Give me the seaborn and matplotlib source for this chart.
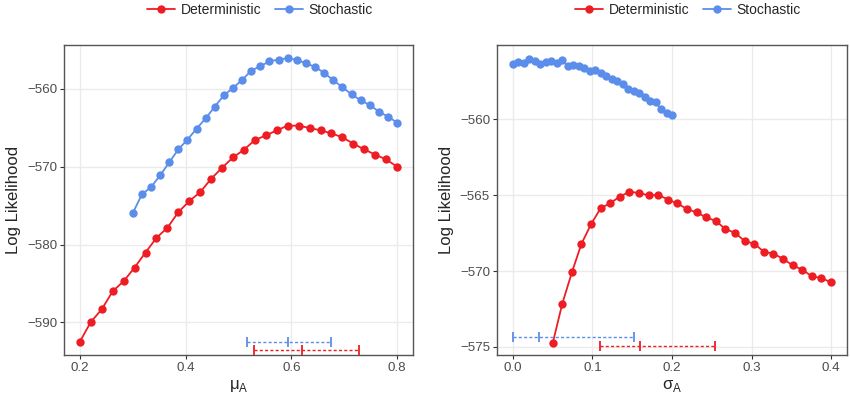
import numpy as np
import pandas as pd
import seaborn as sns
import matplotlib.pyplot as plt

# values
mu_det = np.linspace(0.2, 0.8, 30)
ll_mu_det = [-592.49, -589.96, -588.33, -586.01, -584.72, -582.96, -581.03, -579.14, -577.85, -575.84,
             -574.42, -573.26, -571.55, -570.13, -568.80, -567.81, -566.57, -565.97, -565.32, -564.72,
             -564.72, -565.02, -565.32, -565.71, -566.22, -567.04, -567.77, -568.45, -569.06, -570.00]
mu_sto = np.linspace(0.3, 0.8, 30)
ll_mu_sto = [-575.97, -573.56, -572.62, -571.12, -569.44, -567.77, -566.52, -565.11, -563.78, -562.27,
             -560.82, -559.87, -558.84, -557.64, -557.08, -556.44, -556.22, -556.05, -556.27, -556.70,
             -557.17, -557.94, -558.88, -559.79, -560.69, -561.46, -562.06, -562.92, -563.56, -564.33]

sig_det = np.linspace(0.05, 0.4, 30)
ll_sig_det = [-574.76, -572.15, -570.09, -568.20, -566.91, -565.86, -565.53, -565.09, -564.78, -564.85,
              -565.02, -564.98, -565.29, -565.55, -565.92, -566.14, -566.47, -566.70, -567.24, -567.48,
              -568.03, -568.20, -568.73, -568.86, -569.19, -569.63, -569.91, -570.35, -570.46, -570.75]
sig_sto = np.linspace(0.0, 0.2, 30)
ll_sig_sto = [-556.38, -556.23, -556.29, -556.01, -556.14, -556.34, -556.25, -556.14, -556.32, -556.10,
              -556.51, -556.40, -556.47, -556.60, -556.82, -556.73, -556.95, -557.17, -557.32, -557.50,
              -557.70, -557.98, -558.16, -558.29, -558.55, -558.77, -558.88, -559.34, -559.56, -559.69]

# interval bars: (low, estimate, high, y level)
mu_ci_det = [0.530, 0.620, 0.728, -593.52]
mu_ci_sto = [0.517, 0.593, 0.675, -592.53]
sig_ci_det = [0.110, 0.160, 0.254, -574.96]
sig_ci_sto = [0.0, 0.033, 0.152, -574.32]

red = "#EE1D23"
blue = "#5B8DEB"
palette = {"Deterministic": red, "Stochastic": blue}

df_mu = pd.concat([
    pd.DataFrame({"x": mu_det, "ll": ll_mu_det, "model": "Deterministic"}),
    pd.DataFrame({"x": mu_sto, "ll": ll_mu_sto, "model": "Stochastic"}),
])
df_sig = pd.concat([
    pd.DataFrame({"x": sig_det, "ll": ll_sig_det, "model": "Deterministic"}),
    pd.DataFrame({"x": sig_sto, "ll": ll_sig_sto, "model": "Stochastic"}),
])

sns.set_theme(style="whitegrid")
plt.rcParams['font.family'] = ['Liberation Sans', 'DejaVu Sans']

fig = plt.figure(figsize=(8.5, 3.96), dpi=100)
ax1 = fig.add_axes([64 / 850, 1 - 355 / 396, 349 / 850, 310 / 396])
ax2 = fig.add_axes([497 / 850, 1 - 355 / 396, 350 / 850, 310 / 396])


def draw_ci(ax, ci, color):
    lo, mid, hi, y = ci
    ax.hlines(y, lo, hi, colors=color, linestyles=(0, (2.2, 1.6)), lw=1.0, zorder=3)
    ax.plot([lo, mid, hi], [y, y, y], ls="none", marker="|", ms=7, mew=1.3, color=color, zorder=3)


for ax, df, cis in [(ax1, df_mu, (mu_ci_det, mu_ci_sto)), (ax2, df_sig, (sig_ci_det, sig_ci_sto))]:
    sns.lineplot(data=df, x="x", y="ll", hue="model", palette=palette, marker="o",
                 markersize=6, markeredgewidth=0, lw=1.3, ax=ax, legend=True, sort=False)
    draw_ci(ax, cis[1], blue)
    draw_ci(ax, cis[0], red)
    ax.set_facecolor("white")
    ax.grid(True, color="#EBEBEB", lw=1.0)
    for s in ax.spines.values():
        s.set_visible(True)
        s.set_color("#555555")
        s.set_linewidth(1.0)
    ax.tick_params(axis="both", length=3, width=0.8, color="#333333", labelsize=9.6,
                   labelcolor="#4D4D4D", pad=2, bottom=True, left=True)
    ax.set_ylabel("Log Likelihood", fontsize=12, labelpad=4)
    handles, labels = ax.get_legend_handles_labels()
    ax.get_legend().remove()
    ax._lh = (handles, labels)

ax1.set_xlim(0.17, 0.83)
ax1.set_ylim(-594.2, -554.35)
ax1.set_xticks([0.2, 0.4, 0.6, 0.8])
ax1.set_yticks([-590, -580, -570, -560])
ax1.set_xlabel("μ$_\\mathregular{A}$", fontsize=12, labelpad=3)

ax2.set_xlim(-0.02, 0.42)
ax2.set_ylim(-575.53, -555.11)
ax2.set_xticks([0.0, 0.1, 0.2, 0.3, 0.4])
ax2.set_yticks([-575, -570, -565, -560])
ax2.set_xlabel("σ$_\\mathregular{A}$", fontsize=12, labelpad=3)

for ax, cx in [(ax1, 260 / 850), (ax2, 688 / 850)]:
    h, l = ax._lh
    fig.legend(h, l, loc="center", bbox_to_anchor=(cx, 1 - 10 / 396), ncol=2, frameon=False,
               fontsize=10, handlelength=2.0, handletextpad=0.4, columnspacing=1.0,
               borderaxespad=0, borderpad=0)

fig.savefig("out.png", dpi=100)
